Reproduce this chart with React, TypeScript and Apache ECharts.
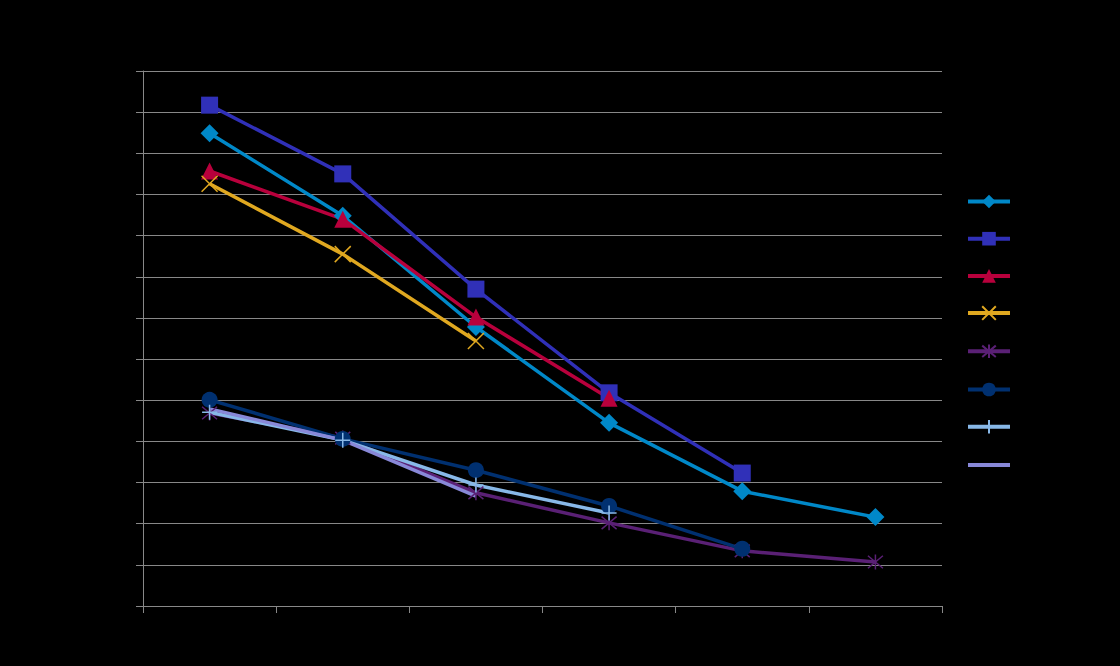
import React, { useEffect, useRef } from "react";
import * as echarts from "echarts";

const categories = ["1", "2", "3", "4", "5", "6"];

const seriesDiamond = [11.49, 9.48, 6.78, 4.45, 2.79, 2.16];
const seriesSquare = [12.17, 10.5, 7.7, 5.18, 3.23];
const seriesTriangle = [10.57, 9.4, 7.02, 5.05];
const seriesCross = [10.26, 8.55, 6.44];
const seriesStar = [4.69, 4.08, 2.75, 2.02, 1.34, 1.07];
const seriesCircle = [5.01, 4.06, 3.3, 2.43, 1.39];
const seriesPlus = [4.71, 4.03, 2.94, 2.26];
const seriesPlain = [4.79, 4.03, 2.67];

const X_PATH = "path://M0,0 L10,10 M10,0 L0,10";
const STAR_PATH = "path://M0,0 L10,10 M10,0 L0,10 M5,-1 L5,11";
const PLUS_PATH = "path://M5,0 L5,10 M0,5 L10,5";

export default function App() {
  const ref = useRef<HTMLDivElement>(null);
  useEffect(() => {
    if (!ref.current) return;
    const chart = echarts.init(ref.current, null, { renderer: "svg" });
    const mk = (
      name: string,
      data: number[],
      color: string,
      symbol: string,
      symbolSize: number,
      stroke = false
    ) => ({
      name,
      type: "line",
      data,
      symbol,
      symbolSize,
      lineStyle: { color, width: 3.5 },
      itemStyle: stroke
        ? { color, borderColor: color, borderWidth: 1.5 }
        : { color },
      z: 2,
    });
    const plain = {
      name: "H",
      type: "line",
      data: seriesPlain,
      symbol: "circle",
      showSymbol: false,
      lineStyle: { color: "#8888d8", width: 3.5 },
      itemStyle: { color: "#8888d8", opacity: 0 },
      z: 2,
    };
    chart.setOption({
      animation: false,
      backgroundColor: "#000000",
      grid: { left: 143, right: 178, top: 71, bottom: 60 },
      legend: {
        orient: "vertical",
        left: 961,
        top: 188,
        itemWidth: 42,
        itemHeight: 17,
        itemGap: 21.9,
        formatter: () => "",
        textStyle: { color: "#000" },
        lineStyle: { width: 4 },
      },
      xAxis: {
        type: "category",
        data: categories,
        boundaryGap: true,
        axisLine: { lineStyle: { color: "#888888", width: 1 } },
        axisTick: { show: true, length: 7, lineStyle: { color: "#888888" } },
        axisLabel: { show: false },
        splitLine: { show: false },
      },
      yAxis: {
        type: "value",
        min: 0,
        max: 13,
        interval: 1,
        axisLine: { show: true, lineStyle: { color: "#888888", width: 1 } },
        axisTick: { show: true, length: 7, lineStyle: { color: "#888888" } },
        axisLabel: { show: false },
        splitLine: { show: true, lineStyle: { color: "#888888", width: 1 } },
      },
      series: [
        mk("A", seriesDiamond, "#0088c8", "diamond", 18),
        mk("B", seriesSquare, "#3030b8", "rect", 17),
        mk("C", seriesTriangle, "#b8003c", "triangle", 17),
        mk("D", seriesCross, "#e0a820", X_PATH, 16, true),
        mk("E", seriesStar, "#5a2075", STAR_PATH, 15, true),
        mk("F", seriesCircle, "#003070", "circle", 16),
        mk("G", seriesPlus, "#88b8e8", PLUS_PATH, 15, true),
        plain,
      ],
    });
    return () => chart.dispose();
  }, []);
  return (
    <div
      ref={ref}
      style={{ position: "absolute", left: 0, top: 0, width: 1120, height: 666 }}
    />
  );
}
